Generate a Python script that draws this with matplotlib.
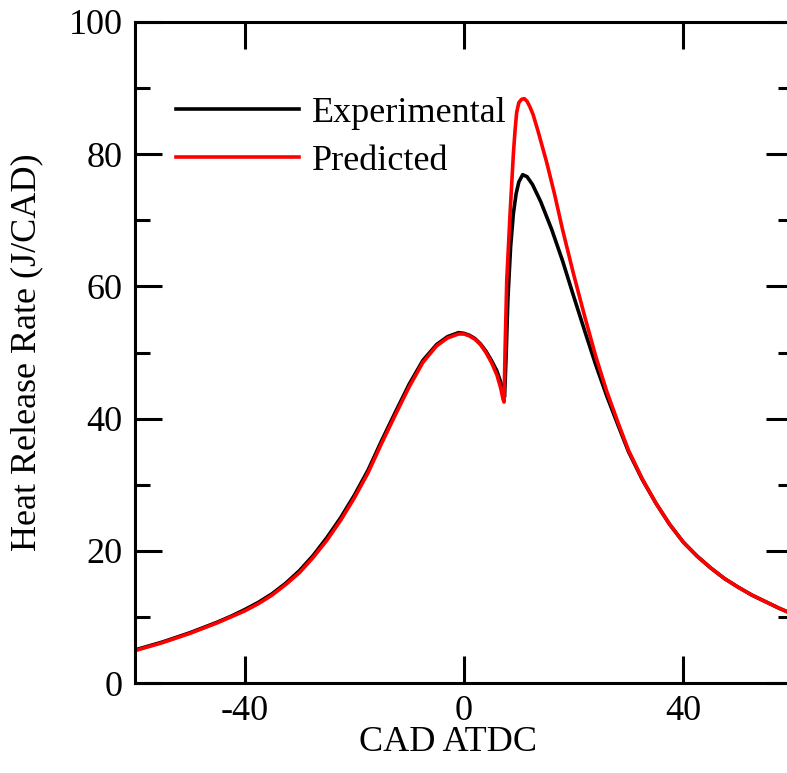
import matplotlib.pyplot as plt
from matplotlib.ticker import MultipleLocator

plt.rcParams['font.family'] = ['Liberation Serif', 'DejaVu Serif']
plt.rcParams['axes.unicode_minus'] = False

# experimental curve
cad_exp = [-60, -57.5, -55, -52.5, -50, -47.5, -45, -42.5, -40, -37.5, -35, -32.5, -30, -27.5, -25, -22.5,
           -20, -17.5, -15, -12.5, -10, -7.5, -5, -3, -1, 0, 1, 2, 3, 4, 5, 6, 6.7, 7.1, 7.4,
           7.7, 8.0, 8.5, 9.0, 9.5, 10, 10.7, 11.5, 12.5, 14, 16, 18, 20, 22, 24, 26, 28, 30,
           32.5, 35, 37.5, 40, 42.5, 45, 47.5, 50, 52.5, 55, 57.5, 60]
hrr_exp = [5.0, 5.6, 6.2, 6.9, 7.6, 8.4, 9.2, 10.1, 11.1, 12.2, 13.5, 15.1, 17.0, 19.3, 22.0, 25.0,
           28.4, 32.2, 36.7, 41.0, 45.2, 48.8, 51.2, 52.4, 53.0, 52.9, 52.6, 52.1, 51.3, 50.2, 48.8, 47.2, 45.5, 44.0, 43.3,
           50.0, 58.0, 66.0, 71.0, 74.0, 75.8, 76.9, 76.6, 75.4, 72.8, 68.6, 63.8, 58.5, 53.3, 48.2, 43.5, 39.2, 35.0,
           30.8, 27.2, 24.0, 21.3, 19.2, 17.4, 15.8, 14.5, 13.3, 12.3, 11.3, 10.4]

# predicted curve
cad_pred = [-60, -57.5, -55, -52.5, -50, -47.5, -45, -42.5, -40, -37.5, -35, -32.5, -30, -27.5, -25, -22.5,
            -20, -17.5, -15, -12.5, -10, -7.5, -5, -3, -1, 0, 1, 2, 3, 4, 5, 6, 6.7, 7.1, 7.3,
            7.5, 7.8, 8.1, 8.4, 8.7, 9.0, 9.3, 9.6, 10.0, 10.5, 11.0, 11.5, 12.0, 12.6, 13.5, 15.1, 16.5, 18,
            20, 22, 24, 26, 28, 30, 32.5, 35, 37.5, 40, 42.5, 45, 47.5, 50, 52.5, 55, 57.5, 60]
hrr_pred = [4.9, 5.5, 6.1, 6.8, 7.5, 8.3, 9.1, 10.0, 10.9, 12.0, 13.3, 14.9, 16.7, 19.0, 21.6, 24.6,
            28.0, 31.8, 36.3, 40.6, 44.8, 48.5, 51.0, 52.2, 52.8, 52.8, 52.5, 52.0, 51.2, 50.0, 48.5, 46.6, 44.6, 43.0, 42.5,
            50.8, 61.0, 66.0, 71.0, 75.5, 80.0, 83.5, 86.3, 87.8, 88.3, 88.4, 88.0, 87.2, 86.0, 83.5, 78.7, 74.0, 68.5,
            61.8, 55.5, 49.5, 44.2, 39.6, 35.2, 30.9, 27.2, 24.0, 21.3, 19.2, 17.4, 15.8, 14.5, 13.3, 12.3, 11.3, 10.4]

W, H = 787, 773
fig = plt.figure(figsize=(W / 100, H / 100), dpi=100)
ax = fig.add_axes([135 / W, (H - 683) / H, 658 / W, 661 / H])

ax.plot(cad_exp, hrr_exp, color='black', lw=2.6, label='Experimental')
ax.plot(cad_pred, hrr_pred, color='red', lw=2.6, label='Predicted')

ax.set_xlim(-60, 60)
ax.set_ylim(0, 100)
ax.xaxis.set_major_locator(MultipleLocator(40))
ax.yaxis.set_major_locator(MultipleLocator(20))
ax.yaxis.set_minor_locator(MultipleLocator(10))
ax.tick_params(which='both', direction='in', top=True, right=True, width=2.2, labelsize=26, pad=9)
ax.tick_params(which='major', length=19.5)
ax.tick_params(which='minor', length=11)
for s in ax.spines.values():
    s.set_linewidth(2.2)

ax.set_xlabel('CAD ATDC', fontsize=26)
ax.set_ylabel('Heat Release Rate (J/CAD)', fontsize=26)
ax.xaxis.set_label_coords(0.476, -0.065)
ax.yaxis.set_label_coords(-0.14, 0.5)

ax.legend(loc='upper left', bbox_to_anchor=(0.063, 0.887), frameon=False, fontsize=26,
          handlelength=3.4, handletextpad=0.35, labelspacing=0.4, borderpad=0, borderaxespad=0)

fig.savefig('out.png', dpi=100)
